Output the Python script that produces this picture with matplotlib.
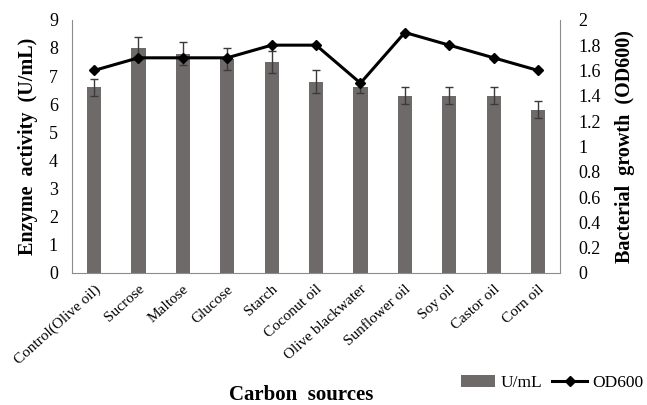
import numpy as np
import matplotlib.pyplot as plt

plt.rcParams['font.family'] = ['Liberation Serif', 'DejaVu Serif']

# ---- data ----
sources = ['Control(Olive oil)', 'Sucrose', 'Maltose', 'Glucose', 'Starch',
           'Coconut oil', 'Olive blackwater', 'Sunflower oil', 'Soy oil',
           'Castor oil', 'Corn oil']
activity = [6.6, 8.0, 7.8, 7.6, 7.5, 6.8, 6.6, 6.3, 6.3, 6.3, 5.8]
activity_err = [0.3, 0.4, 0.4, 0.4, 0.4, 0.4, 0.2, 0.3, 0.3, 0.3, 0.3]
od600 = [1.6, 1.7, 1.7, 1.7, 1.8, 1.8, 1.5, 1.9, 1.8, 1.7, 1.6]
od_ticks = ['0', '0.2', '0.4', '0.6', '0.8', '1', '1.2', '1.4', '1.6', '1.8',
            '2']


def main():
    fig = plt.figure(figsize=(6.47, 4.05), dpi=100)
    ax = fig.add_axes([0.111, 0.326, 0.755, 0.625])
    x = np.arange(len(sources))

    bar_color = '#6f6a6a'
    ax.bar(x, activity, width=0.32, color=bar_color, label='U/mL',
           yerr=activity_err, error_kw=dict(ecolor='#3a3a3a', capsize=3,
                                            elinewidth=1, capthick=1))
    ax.set_ylim(0, 9)
    ax.set_xlim(-0.5, len(sources) - 0.5)
    ax.set_yticks(range(10))
    ax.set_xticks(x)
    ax.set_xticklabels(sources, rotation=42, ha='right', rotation_mode='anchor',
                       fontsize=11)
    ax.tick_params(axis='y', length=0, labelsize=13, pad=10)
    ax.tick_params(axis='x', length=0, pad=7)
    ax.set_ylabel('Enzyme  activity  (U/mL)', fontsize=14.5,
                  fontweight='bold', labelpad=8)

    ax2 = ax.twinx()
    ax2.plot(x, od600, color='black', lw=2.2, marker='D', ms=5.5,
             label='OD600')
    ax2.set_ylim(0, 2)
    ax2.set_yticks(np.arange(0, 2.01, 0.2))
    ax2.set_yticklabels(od_ticks)
    ax2.tick_params(axis='y', length=0, labelsize=13, pad=13)
    ax2.set_ylabel('Bacterial  growth  (OD600)', fontsize=14.5,
                   fontweight='bold', labelpad=10)

    for a in (ax, ax2):
        a.spines['top'].set_visible(False)
        for s in ('left', 'right', 'bottom'):
            a.spines[s].set_color('#8c8c8c')
    ax.spines['right'].set_visible(False)
    ax2.spines['left'].set_visible(False)
    ax2.spines['bottom'].set_visible(False)

    fig.text(0.465, 0.012, 'Carbon  sources', fontsize=15,
             fontweight='bold', ha='center', va='baseline')

    h1, l1 = ax.get_legend_handles_labels()
    h2, l2 = ax2.get_legend_handles_labels()
    fig.legend(h1 + h2, l1 + l2, loc='center right',
               bbox_to_anchor=(1.0, 0.054), ncol=2, frameon=False,
               fontsize=12.5, handlelength=2.0, columnspacing=0.6,
               handletextpad=0.3, borderaxespad=0.1, borderpad=0.1)

    fig.savefig('out.png', dpi=100)


if __name__ == "__main__":
    main()
